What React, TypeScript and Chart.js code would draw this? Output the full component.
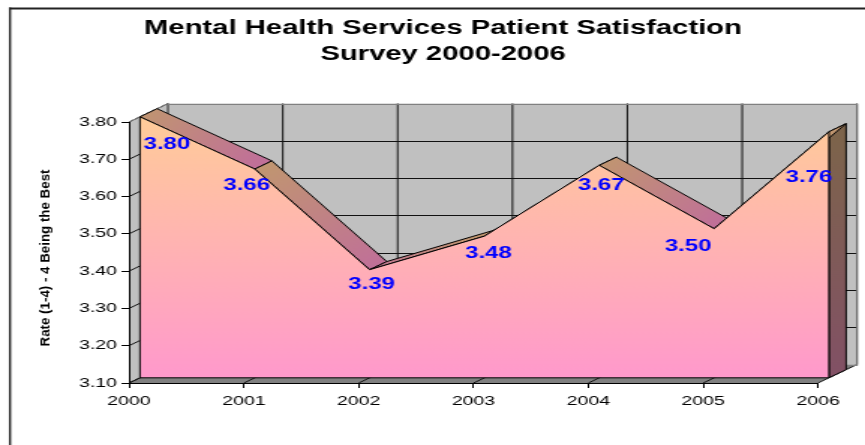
import { useEffect, useRef } from "react";
import { Chart, registerables } from "chart.js";

Chart.register(...registerables);

// ---------- data ----------
const years = ["2000", "2001", "2002", "2003", "2004", "2005", "2006"];
const ratings = [3.8, 3.66, 3.39, 3.48, 3.67, 3.5, 3.76];
const yTickValues = [3.1, 3.2, 3.3, 3.4, 3.5, 3.6, 3.7, 3.8];
const titleLines = ["Mental Health Services Patient Satisfaction", "Survey 2000-2006"];
const yAxisTitle = "Rate (1-4) - 4 Being the Best";

// ---------- layout / style ----------
const CW = 577;
const CH = 445;
const SX = 865 / CW; // the picture is horizontally stretched
const FONT = '"Liberation Sans", Arial, sans-serif';
const DEPTH = { x: 39 / SX, y: -18.5 };
const FRONT = 0.28;
const BACK = 0.72;
// label nudges in displayed pixels, relative to the front vertex
const labelNudge: [number, number][] = [
  [27, 28],
  [-8, 17],
  [2, 15],
  [4, 17],
  [2, 20],
  [-26, 18],
  [-20, 46],
];

const excel3d = {
  id: "excel3d",
  beforeDraw(chart: any) {
    const { ctx, chartArea: ca, scales } = chart;
    const xs = scales.x;
    const ys = scales.y;
    ctx.save();
    ctx.fillStyle = "#ffffff";
    ctx.fillRect(0, 0, chart.width, chart.height);

    // outer frame (top + left)
    ctx.fillStyle = "#222222";
    ctx.fillRect(10 / SX - 0.7, 7.5, chart.width, 2);
    ctx.fillRect(10 / SX - 0.7, 7.5, 1.4, chart.height);

    // title
    ctx.fillStyle = "#000000";
    ctx.font = `bold 19.5px ${FONT}`;
    ctx.textAlign = "center";
    ctx.textBaseline = "alphabetic";
    ctx.fillText(titleLines[0], 443 / SX, 34);
    ctx.fillText(titleLines[1], 443 / SX, 60);

    // y title
    ctx.save();
    ctx.translate(46 / SX, 258);
    ctx.rotate(-Math.PI / 2);
    ctx.font = `bold 9.5px ${FONT}`;
    const w = ctx.measureText(yAxisTitle).width;
    ctx.scale(177 / w, 1);
    ctx.textAlign = "center";
    ctx.textBaseline = "middle";
    ctx.fillText(yAxisTitle, 0, 0);
    ctx.restore();

    const dx = DEPTH.x;
    const dy = DEPTH.y;
    const L = ca.left;
    const R = ca.right;
    const T = ca.top;
    const B = ca.bottom;

    // back wall
    ctx.fillStyle = "#c0c0c0";
    ctx.fillRect(L + dx, T + dy, R - L, B - T);
    // side wall
    ctx.beginPath();
    ctx.moveTo(L, T);
    ctx.lineTo(L + dx, T + dy);
    ctx.lineTo(L + dx, B + dy);
    ctx.lineTo(L, B);
    ctx.closePath();
    ctx.fill();
    // floor
    ctx.fillStyle = "#808080";
    ctx.beginPath();
    ctx.moveTo(L, B);
    ctx.lineTo(R, B);
    ctx.lineTo(R + dx, B + dy);
    ctx.lineTo(L + dx, B + dy);
    ctx.closePath();
    ctx.fill();

    // grid lines
    ctx.strokeStyle = "#111111";
    ctx.lineWidth = 1;
    ctx.beginPath();
    yTickValues.forEach((v) => {
      const y = ys.getPixelForValue(v);
      const yb = Math.round(y + dy) + 0.5;
      ctx.moveTo(L + dx, yb);
      ctx.lineTo(R + dx, yb);
      ctx.moveTo(L, y);
      ctx.lineTo(L + dx, y + dy);
    });
    years.forEach((_, i) => {
      const x = xs.getPixelForValue(i);
      ctx.moveTo(x + dx, T + dy);
      ctx.lineTo(x + dx, B + dy);
      ctx.moveTo(x, B);
      ctx.lineTo(x + dx, B + dy);
    });
    ctx.stroke();

    // wall edges
    ctx.strokeStyle = "#808080";
    ctx.strokeRect(L + dx, Math.round(T + dy) + 0.5, R - L, B - T);
    ctx.beginPath();
    ctx.moveTo(L, T);
    ctx.lineTo(L + dx, T + dy);
    ctx.stroke();
    ctx.restore();
  },
  beforeDatasetsDraw(chart: any) {
    const { ctx, chartArea: ca, scales } = chart;
    const xs = scales.x;
    const ys = scales.y;
    const vals = chart.data.datasets[0].data as number[];
    const B = ca.bottom;
    const fx = DEPTH.x * FRONT;
    const fy = DEPTH.y * FRONT;
    const bx = DEPTH.x * BACK;
    const by = DEPTH.y * BACK;
    const pts = vals.map((v, i) => ({ x: xs.getPixelForValue(i), y: ys.getPixelForValue(v) }));
    ctx.save();
    ctx.strokeStyle = "#000000";
    ctx.lineWidth = 1;
    ctx.lineJoin = "round";

    // right end face
    const last = pts[pts.length - 1];
    const eg = ctx.createLinearGradient(0, last.y, 0, B);
    eg.addColorStop(0, "#7d644b");
    eg.addColorStop(1, "#825066");
    ctx.fillStyle = eg;
    ctx.beginPath();
    ctx.moveTo(last.x + fx, last.y + fy);
    ctx.lineTo(last.x + bx, last.y + by);
    ctx.lineTo(last.x + bx, B + by);
    ctx.lineTo(last.x + fx, B + fy);
    ctx.closePath();
    ctx.fill();
    ctx.stroke();

    // top surfaces
    for (let i = 0; i < pts.length - 1; i++) {
      const a = pts[i];
      const b = pts[i + 1];
      const hi = a.y <= b.y ? a : b;
      const lo = a.y <= b.y ? b : a;
      const g = ctx.createLinearGradient(hi.x, hi.y, lo.x, lo.y);
      g.addColorStop(0, "#c09670");
      g.addColorStop(1, "#c07098");
      ctx.fillStyle = g;
      ctx.beginPath();
      ctx.moveTo(a.x + fx, a.y + fy);
      ctx.lineTo(b.x + fx, b.y + fy);
      ctx.lineTo(b.x + bx, b.y + by);
      ctx.lineTo(a.x + bx, a.y + by);
      ctx.closePath();
      ctx.fill();
      ctx.stroke();
    }

    // front face
    const fg = ctx.createLinearGradient(0, ca.top + fy, 0, B + fy);
    fg.addColorStop(0, "#ffcc99");
    fg.addColorStop(1, "#ff99cc");
    ctx.fillStyle = fg;
    ctx.beginPath();
    ctx.moveTo(pts[0].x + fx, B + fy);
    pts.forEach((p) => ctx.lineTo(p.x + fx, p.y + fy));
    ctx.lineTo(last.x + fx, B + fy);
    ctx.closePath();
    ctx.fill();
    ctx.stroke();
    ctx.restore();
  },
  afterDraw(chart: any) {
    const { ctx, scales } = chart;
    const xs = scales.x;
    const ys = scales.y;
    const vals = chart.data.datasets[0].data as number[];
    const fx = DEPTH.x * FRONT;
    const fy = DEPTH.y * FRONT;
    ctx.save();
    ctx.fillStyle = "#0000ff";
    ctx.font = `bold 16px ${FONT}`;
    ctx.textAlign = "center";
    ctx.textBaseline = "middle";
    vals.forEach((v, i) => {
      const x = xs.getPixelForValue(i) + fx + labelNudge[i][0] / SX;
      const y = ys.getPixelForValue(v) + fy + labelNudge[i][1];
      ctx.fillText(v.toFixed(2), x, y);
    });
    ctx.restore();
  },
};

export default function App() {
  const ref = useRef<HTMLCanvasElement>(null);
  useEffect(() => {
    const prevMargin = document.body.style.margin;
    const prevOverflow = document.body.style.overflow;
    document.body.style.margin = "0";
    document.body.style.overflow = "hidden";
    const chart = new Chart(ref.current as HTMLCanvasElement, {
      type: "line",
      data: {
        labels: years,
        datasets: [
          {
            label: "Rating",
            data: ratings,
            showLine: false,
            pointRadius: 0,
            borderWidth: 0,
            fill: false,
          },
        ],
      },
      options: {
        responsive: false,
        animation: false,
        devicePixelRatio: 1,
        events: [],
        layout: { padding: { left: 0, top: 122, right: CW - 818 / SX, bottom: 0 } },
        plugins: {
          legend: { display: false },
          title: { display: false },
          tooltip: { enabled: false },
        },
        scales: {
          x: {
            type: "category",
            offset: false,
            grid: { offset: false, drawOnChartArea: false, drawTicks: true, tickLength: 5, color: "#000000" },
            border: { display: true, color: "#000000", width: 1 },
            ticks: {
              color: "#000000",
              font: { family: FONT, size: 13 },
              padding: 6,
              maxRotation: 0,
              autoSkip: false,
            },
            afterFit: (s: any) => {
              s.height = 62;
            },
          },
          y: {
            type: "linear",
            min: 3.1,
            max: 3.8,
            afterBuildTicks: (s: any) => {
              s.ticks = yTickValues.map((v) => ({ value: v }));
            },
            grid: { drawOnChartArea: false, drawTicks: true, tickLength: 5, color: "#000000" },
            border: { display: true, color: "#000000", width: 1 },
            ticks: {
              color: "#000000",
              font: { family: FONT, size: 13 },
              padding: 3,
              callback: (v: any) => Number(v).toFixed(2),
            },
            afterFit: (s: any) => {
              s.width = 129 / SX;
            },
          },
        },
      },
      plugins: [excel3d],
    });
    return () => {
      chart.destroy();
      document.body.style.margin = prevMargin;
      document.body.style.overflow = prevOverflow;
    };
  }, []);
  return (
    <canvas
      ref={ref}
      width={CW}
      height={CH}
      style={{ display: "block", width: "865px", height: "445px" }}
    />
  );
}
